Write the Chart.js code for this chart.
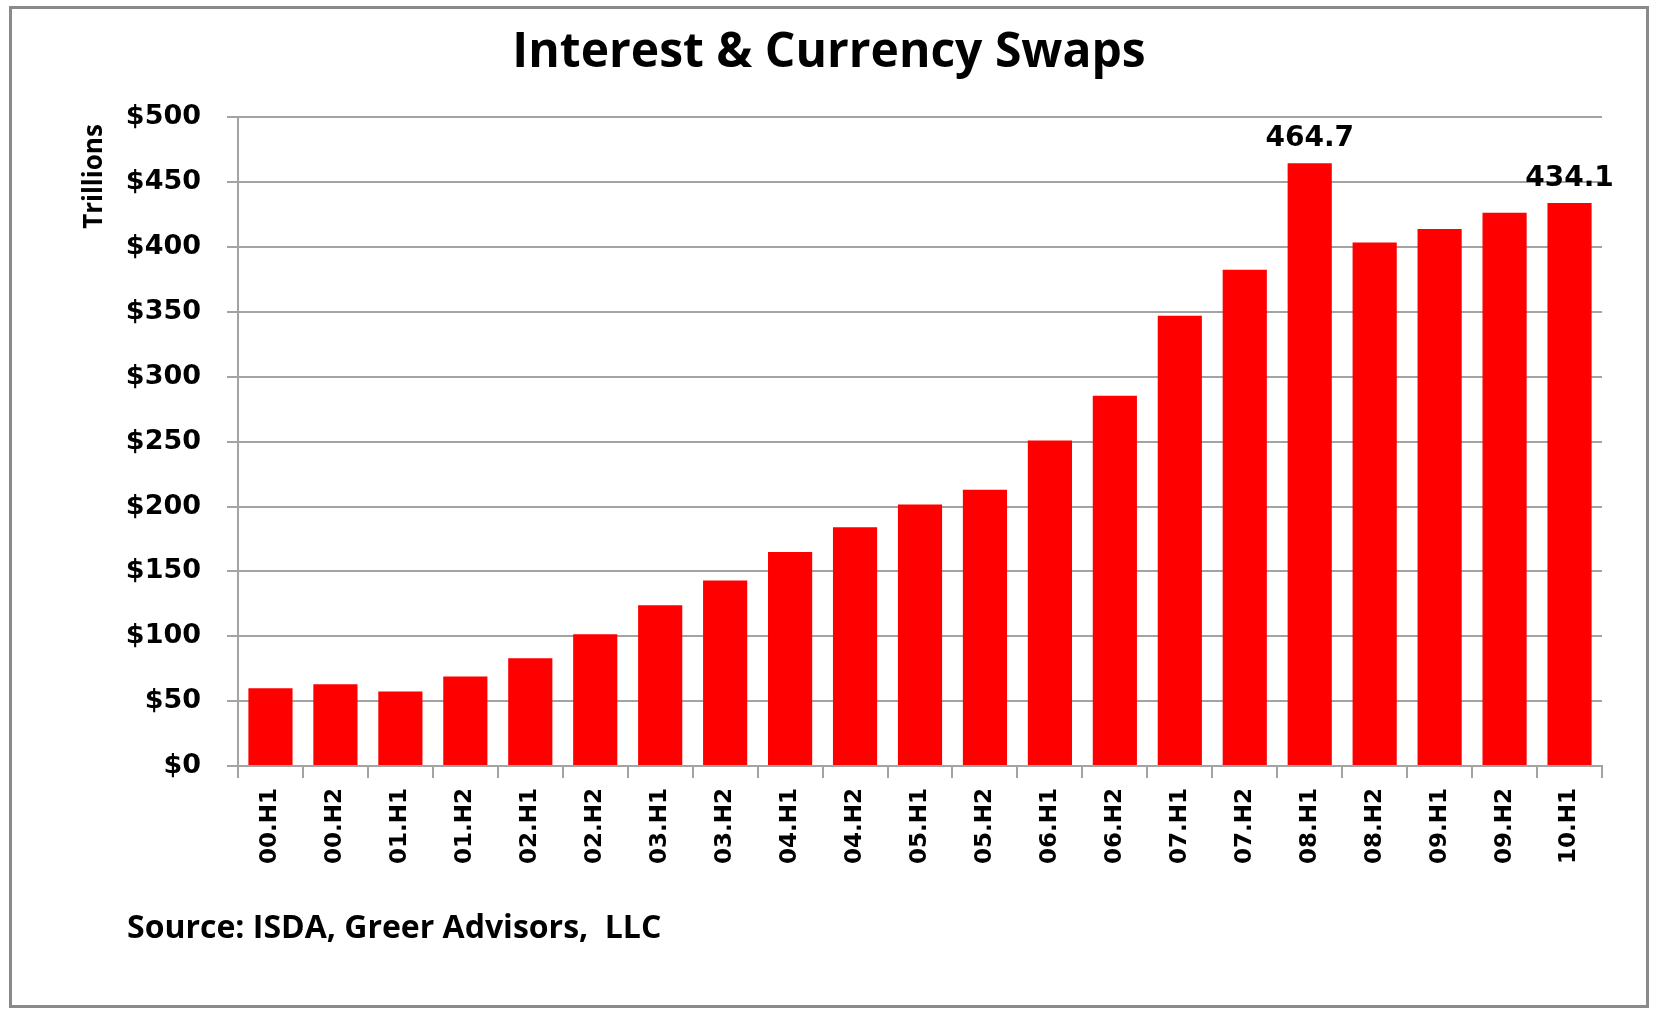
<!DOCTYPE html>
<html>
<head>
<meta charset="utf-8">
<title>Interest &amp; Currency Swaps</title>
<script src="https://cdn.jsdelivr.net/npm/chart.js@4.4.1/dist/chart.umd.min.js"></script>
<style>
  html, body { margin: 0; padding: 0; background: #fff; }
  .frame { position: absolute; left: 9px; top: 6px; width: 1634px; height: 996px; border: 3px solid #8a8a8a; }
  canvas { display: block; }
</style>
</head>
<body>
<div class="frame"><canvas id="swapChart" width="1634" height="996"></canvas></div>
<script>
// ─── DATA ─────────────────────────────────────────────────────────
const periods = ['00.H1', '00.H2', '01.H1', '01.H2', '02.H1', '02.H2', '03.H1', '03.H2',
                 '04.H1', '04.H2', '05.H1', '05.H2', '06.H1', '06.H2', '07.H1', '07.H2',
                 '08.H1', '08.H2', '09.H1', '09.H2', '10.H1'];
const notional = [60, 63, 57.5, 69, 83, 101.5, 124, 143,
                  165, 184, 201.5, 213, 251, 285.5, 347, 382.5,
                  464.7, 403.5, 414, 426.5, 434.1];
const labelled = ['08.H1', '10.H1'];
const yTicks = [0, 50, 100, 150, 200, 250, 300, 350, 400, 450, 500];
const sourceText = 'Source: ISDA, Greer Advisors,  LLC';

const GRID = '#a3a3a3';

// ─── PLUGINS ──────────────────────────────────────────────────────
const valueLabels = {
    id: 'valueLabels',
    afterDatasetsDraw(chart) {
        const ctx = chart.ctx;
        const bars = chart.getDatasetMeta(0).data;
        ctx.save();
        ctx.font = 'bold 28px "DejaVu Sans"';
        ctx.fillStyle = '#000';
        ctx.textAlign = 'center';
        ctx.textBaseline = 'alphabetic';
        labelled.forEach(p => {
            const i = periods.indexOf(p);
            ctx.fillText(notional[i].toFixed(1), bars[i].x, bars[i].y - 17);
        });
        ctx.restore();
    }
};

const sourceNote = {
    id: 'sourceNote',
    afterDraw(chart) {
        const ctx = chart.ctx;
        ctx.save();
        ctx.font = 'bold 32px "Open Sans"';
        ctx.fillStyle = '#000';
        ctx.textAlign = 'left';
        ctx.textBaseline = 'alphabetic';
        ctx.fillText(sourceText, 115, 929);
        ctx.restore();
    }
};

// ─── CHART ────────────────────────────────────────────────────────
new Chart(document.getElementById('swapChart'), {
    type: 'bar',
    data: {
        labels: periods,
        datasets: [{
            data: notional,
            backgroundColor: '#ff0000',
            borderWidth: 0,
            barPercentage: 0.68,
            categoryPercentage: 1.0
        }]
    },
    options: {
        responsive: false,
        animation: false,
        layout: { padding: 0 },
        plugins: {
            legend: { display: false },
            tooltip: { enabled: false },
            title: {
                display: true,
                text: 'Interest & Currency Swaps',
                color: '#000',
                font: { family: '"Open Sans"', size: 48, weight: 'bold', lineHeight: 1.2 },
                padding: { top: 16, bottom: 34.8 }
            }
        },
        scales: {
            x: {
                grid: { display: true, drawOnChartArea: false, drawTicks: true, tickLength: 12, color: GRID, lineWidth: 2, offset: true },
                border: { display: true, color: GRID, width: 2 },
                ticks: {
                    color: '#000',
                    minRotation: 90, maxRotation: 90,
                    padding: 10,
                    font: { family: '"DejaVu Sans"', size: 23, weight: 'bold' }
                },
                afterFit(scale) { scale.height = 239; }
            },
            y: {
                min: 0, max: 500,
                afterBuildTicks(scale) { scale.ticks = yTicks.map(v => ({ value: v })); },
                grid: { color: GRID, lineWidth: 2, drawTicks: true, tickLength: 11 },
                border: { display: true, color: GRID, width: 2 },
                ticks: {
                    color: '#000',
                    padding: 26,
                    font: { family: '"DejaVu Sans"', size: 27, weight: 'bold' },
                    callback: v => '$' + v
                },
                title: {
                    display: true,
                    text: 'Trillions ',
                    align: 'end',
                    color: '#000',
                    font: { family: '"Open Sans"', size: 26, weight: 'bold', lineHeight: 1.2 },
                    padding: { top: 67, bottom: 0 }
                },
                afterFit(scale) { scale.width = 226; }
            },
            // empty right-hand axis, only keeps the plot clear of the frame
            spacer: {
                type: 'linear',
                position: 'right',
                display: true,
                grid: { display: false },
                border: { display: false },
                ticks: { display: false },
                afterFit(scale) { scale.width = 44; }
            }
        }
    },
    plugins: [valueLabels, sourceNote]
});
</script>
</body>
</html>
